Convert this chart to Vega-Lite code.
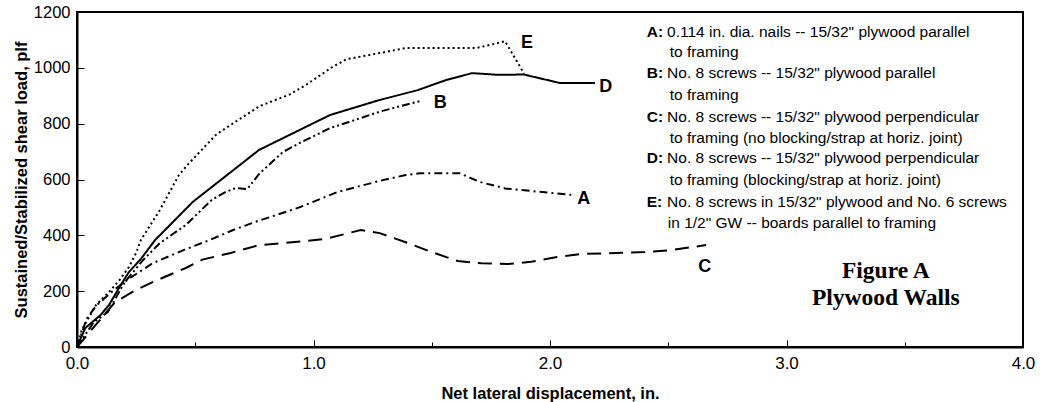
{
  "$schema": "https://vega.github.io/schema/vega-lite/v6.json",
  "width": 946,
  "height": 335,
  "autosize": {"type": "none"},
  "padding": {"left": 77, "top": 12, "right": 22, "bottom": 55},
  "background": "white",
  "config": {
    "view": {"stroke": "black", "strokeWidth": 2},
    "font": "Liberation Sans",
    "axis": {"grid": false, "domainColor": "black", "domainWidth": 2, "tickColor": "black", "tickWidth": 1, "labelColor": "black", "titleColor": "black", "labelFont": "Liberation Sans", "titleFont": "Liberation Sans", "labelFlush": false, "labelOverlap": false}
  },
  "datasets": {
    "curves": [
      {"s": "A", "x": 0, "y": 0}, {"s": "A", "x": 0.04, "y": 100}, {"s": "A", "x": 0.08, "y": 147}, {"s": "A", "x": 0.15, "y": 200}, {"s": "A", "x": 0.22, "y": 245}, {"s": "A", "x": 0.32, "y": 300}, {"s": "A", "x": 0.45, "y": 347}, {"s": "A", "x": 0.56, "y": 383}, {"s": "A", "x": 0.66, "y": 419}, {"s": "A", "x": 0.76, "y": 450}, {"s": "A", "x": 0.94, "y": 500}, {"s": "A", "x": 1.10, "y": 555}, {"s": "A", "x": 1.28, "y": 595}, {"s": "A", "x": 1.39, "y": 616}, {"s": "A", "x": 1.45, "y": 622}, {"s": "A", "x": 1.62, "y": 622}, {"s": "A", "x": 1.70, "y": 592}, {"s": "A", "x": 1.81, "y": 568}, {"s": "A", "x": 2.09, "y": 545},
      {"s": "B", "x": 0, "y": 0}, {"s": "B", "x": 0.07, "y": 88}, {"s": "B", "x": 0.13, "y": 125}, {"s": "B", "x": 0.20, "y": 230}, {"s": "B", "x": 0.28, "y": 312}, {"s": "B", "x": 0.35, "y": 372}, {"s": "B", "x": 0.46, "y": 437}, {"s": "B", "x": 0.57, "y": 527}, {"s": "B", "x": 0.63, "y": 556}, {"s": "B", "x": 0.67, "y": 569}, {"s": "B", "x": 0.72, "y": 566}, {"s": "B", "x": 0.77, "y": 620}, {"s": "B", "x": 0.87, "y": 698}, {"s": "B", "x": 0.94, "y": 730}, {"s": "B", "x": 1.07, "y": 784}, {"s": "B", "x": 1.15, "y": 806}, {"s": "B", "x": 1.28, "y": 843}, {"s": "B", "x": 1.45, "y": 881},
      {"s": "C", "x": 0, "y": 0}, {"s": "C", "x": 0.08, "y": 80}, {"s": "C", "x": 0.16, "y": 160}, {"s": "C", "x": 0.25, "y": 205}, {"s": "C", "x": 0.34, "y": 240}, {"s": "C", "x": 0.46, "y": 283}, {"s": "C", "x": 0.53, "y": 313}, {"s": "C", "x": 0.65, "y": 337}, {"s": "C", "x": 0.77, "y": 365}, {"s": "C", "x": 0.87, "y": 372}, {"s": "C", "x": 1.05, "y": 387}, {"s": "C", "x": 1.20, "y": 419}, {"s": "C", "x": 1.28, "y": 408}, {"s": "C", "x": 1.40, "y": 372}, {"s": "C", "x": 1.50, "y": 340}, {"s": "C", "x": 1.61, "y": 308}, {"s": "C", "x": 1.71, "y": 300}, {"s": "C", "x": 1.82, "y": 297}, {"s": "C", "x": 1.92, "y": 305}, {"s": "C", "x": 2.03, "y": 322}, {"s": "C", "x": 2.13, "y": 333}, {"s": "C", "x": 2.40, "y": 340}, {"s": "C", "x": 2.51, "y": 347}, {"s": "C", "x": 2.66, "y": 365},
      {"s": "D", "x": 0, "y": 0}, {"s": "D", "x": 0.035, "y": 68}, {"s": "D", "x": 0.10, "y": 115}, {"s": "D", "x": 0.135, "y": 150}, {"s": "D", "x": 0.18, "y": 215}, {"s": "D", "x": 0.22, "y": 269}, {"s": "D", "x": 0.27, "y": 315}, {"s": "D", "x": 0.33, "y": 383}, {"s": "D", "x": 0.49, "y": 520}, {"s": "D", "x": 0.77, "y": 706}, {"s": "D", "x": 1.07, "y": 831}, {"s": "D", "x": 1.28, "y": 885}, {"s": "D", "x": 1.44, "y": 920}, {"s": "D", "x": 1.56, "y": 956}, {"s": "D", "x": 1.67, "y": 981}, {"s": "D", "x": 1.78, "y": 975}, {"s": "D", "x": 1.89, "y": 976}, {"s": "D", "x": 2.04, "y": 946}, {"s": "D", "x": 2.19, "y": 946},
      {"s": "E", "x": 0, "y": 0}, {"s": "E", "x": 0.02, "y": 61}, {"s": "E", "x": 0.08, "y": 150}, {"s": "E", "x": 0.135, "y": 197}, {"s": "E", "x": 0.18, "y": 240}, {"s": "E", "x": 0.22, "y": 287}, {"s": "E", "x": 0.25, "y": 337}, {"s": "E", "x": 0.27, "y": 383}, {"s": "E", "x": 0.35, "y": 490}, {"s": "E", "x": 0.43, "y": 615}, {"s": "E", "x": 0.47, "y": 655}, {"s": "E", "x": 0.59, "y": 762}, {"s": "E", "x": 0.77, "y": 862}, {"s": "E", "x": 0.90, "y": 905}, {"s": "E", "x": 0.97, "y": 940}, {"s": "E", "x": 1.08, "y": 1003}, {"s": "E", "x": 1.14, "y": 1031}, {"s": "E", "x": 1.28, "y": 1053}, {"s": "E", "x": 1.39, "y": 1071}, {"s": "E", "x": 1.69, "y": 1071}, {"s": "E", "x": 1.81, "y": 1095}, {"s": "E", "x": 1.89, "y": 980}
    ],
    "curveLabels": [
      {"t": "A", "x": 2.143, "y": 530},
      {"t": "B", "x": 1.536, "y": 874},
      {"t": "C", "x": 2.654, "y": 287},
      {"t": "D", "x": 2.236, "y": 931},
      {"t": "E", "x": 1.903, "y": 1089}
    ],
    "keys": [
      {"t": "A:", "x": 2.409, "y": 1129},
      {"t": "B:", "x": 2.409, "y": 980},
      {"t": "C:", "x": 2.409, "y": 825},
      {"t": "D:", "x": 2.409, "y": 676},
      {"t": "E:", "x": 2.409, "y": 520}
    ],
    "legendText": [
      {"t": "0.114 in. dia. nails -- 15/32\" plywood parallel", "x": 2.495, "y": 1129},
      {"t": "to framing", "x": 2.506, "y": 1058},
      {"t": "No. 8 screws -- 15/32\" plywood parallel", "x": 2.495, "y": 980},
      {"t": "to framing", "x": 2.506, "y": 903},
      {"t": "No. 8 screws -- 15/32\" plywood perpendicular", "x": 2.495, "y": 825},
      {"t": "to framing (no blocking/strap at horiz. joint)", "x": 2.506, "y": 747},
      {"t": "No. 8 screws -- 15/32\" plywood  perpendicular", "x": 2.495, "y": 676},
      {"t": "to framing (blocking/strap at horiz. joint)", "x": 2.506, "y": 598},
      {"t": "No. 8 screws in 15/32\" plywood and No. 6 screws", "x": 2.495, "y": 520},
      {"t": "in 1/2\" GW -- boards parallel to framing", "x": 2.498, "y": 443}
    ],
    "figTitle": [
      {"t": "Figure A", "x": 3.42, "y": 274},
      {"t": "Plywood Walls", "x": 3.42, "y": 175}
    ]
  },
  "layer": [
    {
      "data": {"name": "curves"},
      "mark": {"type": "line", "color": "black", "strokeWidth": 2},
      "encoding": {
        "x": {
          "field": "x", "type": "quantitative",
          "scale": {"domain": [0, 4], "nice": false, "zero": false},
          "axis": {
            "values": [0, 0.5, 1, 1.5, 2, 2.5, 3, 3.5, 4],
            "labelExpr": "datum.value % 1 === 0 ? format(datum.value, '.1f') : ''",
            "tickSize": {"condition": {"test": "datum.value % 1 !== 0", "value": -5}, "value": -7},
            "labelPadding": 15,
            "labelFontSize": 17,
            "title": "Net lateral displacement, in.",
            "titleFontSize": 16.5,
            "titleFontWeight": "bold",
            "titlePadding": 12
          }
        },
        "y": {
          "field": "y", "type": "quantitative",
          "scale": {"domain": [0, 1200], "nice": false},
          "axis": {
            "values": [0, 50, 100, 150, 200, 250, 300, 350, 400, 450, 500, 550, 600, 650, 700, 750, 800, 850, 900, 950, 1000, 1050, 1100, 1150, 1200],
            "labelExpr": "datum.value % 200 === 0 ? format(datum.value, 'd') : ''",
            "tickSize": {"condition": {"test": "datum.value % 200 !== 0", "value": -4}, "value": -7},
            "labelPadding": 14,
            "labelFontSize": 16.5,
            "title": "Sustained/Stabilized shear load, plf",
            "titleFontSize": 16.5,
            "titleFontWeight": "bold",
            "titlePadding": 4
          }
        },
        "detail": {"field": "s", "type": "nominal"},
        "strokeDash": {
          "field": "s", "type": "nominal",
          "scale": {"domain": ["A", "B", "C", "D", "E"], "range": [[8, 4, 2, 4], [8, 3, 2, 3, 2, 3], [14, 8], [1, 0], [2, 3]]},
          "legend": null
        }
      }
    },
    {
      "data": {"name": "curveLabels"},
      "mark": {"type": "text", "font": "Liberation Sans", "fontWeight": "bold", "fontSize": 18, "color": "black", "align": "center", "baseline": "middle"},
      "encoding": {
        "x": {"field": "x", "type": "quantitative"},
        "y": {"field": "y", "type": "quantitative"},
        "text": {"field": "t"}
      }
    },
    {
      "data": {"name": "keys"},
      "mark": {"type": "text", "font": "Liberation Sans", "fontWeight": "bold", "fontSize": 15.5, "color": "black", "align": "left", "baseline": "middle"},
      "encoding": {
        "x": {"field": "x", "type": "quantitative"},
        "y": {"field": "y", "type": "quantitative"},
        "text": {"field": "t"}
      }
    },
    {
      "data": {"name": "legendText"},
      "mark": {"type": "text", "font": "Liberation Sans", "fontSize": 15.5, "color": "black", "align": "left", "baseline": "middle"},
      "encoding": {
        "x": {"field": "x", "type": "quantitative"},
        "y": {"field": "y", "type": "quantitative"},
        "text": {"field": "t"}
      }
    },
    {
      "data": {"name": "figTitle"},
      "mark": {"type": "text", "font": "Liberation Serif", "fontWeight": "bold", "fontSize": 23.5, "color": "black", "align": "center", "baseline": "middle"},
      "encoding": {
        "x": {"field": "x", "type": "quantitative"},
        "y": {"field": "y", "type": "quantitative"},
        "text": {"field": "t"}
      }
    }
  ]
}
